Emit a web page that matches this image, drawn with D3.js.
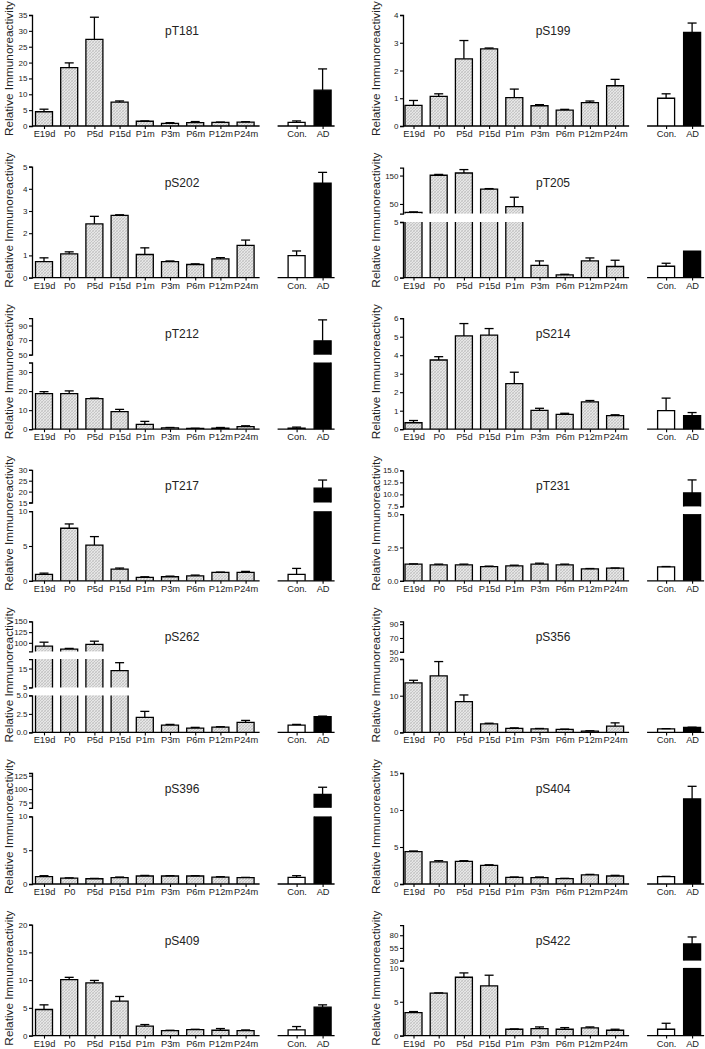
<!DOCTYPE html>
<html lang="en">
<head>
<meta charset="UTF-8">
<title>Tau phosphorylation sites</title>
<script src="https://d3js.org/d3.v7.min.js"></script>
<style>
  body { margin: 0; background: #fff; }
  svg text { font-family: "Liberation Sans", Arial, sans-serif; fill: #222; }
</style>
</head>
<body>
<div id="chart"></div>
<script>
// categories
var ages = ["E19d", "P0", "P5d", "P15d", "P1m", "P3m", "P6m", "P12m", "P24m"];
var groups = ["Con.", "AD"];
var sites = ["pT181", "pS199", "pS202", "pT205", "pT212", "pS214", "pT217",
             "pT231", "pS262", "pS356", "pS396", "pS404", "pS409", "pS422"];

// means (9 ages, then Con., AD) and SEM
var pT181Mean = [4.5, 18.4, 27.3, 7.5, 1.5, 0.8, 1.05, 1.15, 1.25, 1.15, 11.3];
var pT181Sem  = [0.8, 1.5, 7.0, 0.4, 0.1, 0.25, 0.35, 0.1, 0.1, 0.45, 6.7];
var pS199Mean = [0.74, 1.07, 2.42, 2.78, 1.02, 0.73, 0.57, 0.84, 1.45, 1.0, 3.37];
var pS199Sem  = [0.18, 0.09, 0.66, 0.03, 0.31, 0.04, 0.03, 0.06, 0.23, 0.16, 0.34];
var pS202Mean = [0.72, 1.07, 2.42, 2.8, 1.04, 0.72, 0.59, 0.84, 1.45, 0.99, 4.25];
var pS202Sem  = [0.17, 0.09, 0.34, 0.03, 0.3, 0.03, 0.03, 0.06, 0.24, 0.21, 0.49];
var pT205Mean = [20, 151, 159, 102, 40.6, 1.1, 0.24, 1.5, 1.0, 1.02, 2.37];
var pT205Sem  = [2, 3, 12, 2, 33, 0.4, 0.06, 0.27, 0.56, 0.27, 0];
var pT212Mean = [18.7, 18.7, 16.0, 9.2, 2.5, 0.7, 0.4, 0.5, 1.4, 0.5, 69];
var pT212Sem  = [1.0, 1.4, 0.3, 1.2, 1.6, 0.2, 0.1, 0.4, 0.4, 0.6, 28.7];
var pS214Mean = [0.35, 3.74, 5.04, 5.09, 2.46, 1.02, 0.8, 1.48, 0.73, 1.0, 0.73];
var pS214Sem  = [0.12, 0.18, 0.67, 0.35, 0.62, 0.11, 0.06, 0.07, 0.05, 0.68, 0.17];
var pT217Mean = [0.91, 7.55, 5.14, 1.68, 0.48, 0.58, 0.72, 1.2, 1.2, 0.91, 21.6];
var pT217Sem  = [0.19, 0.62, 1.21, 0.15, 0.1, 0.09, 0.1, 0.05, 0.15, 0.87, 3.7];
var pT231Mean = [1.25, 1.2, 1.2, 1.07, 1.12, 1.25, 1.2, 0.9, 0.95, 1.05, 10.3];
var pT231Sem  = [0.02, 0.05, 0.05, 0.03, 0.05, 0.07, 0.05, 0.02, 0.01, 0.02, 2.7];
var pS262Mean = [92.3, 85.4, 96.2, 13.9, 2.03, 0.99, 0.59, 0.72, 1.35, 0.99, 2.12];
var pS262Sem  = [9.2, 1.6, 7.6, 4.2, 0.81, 0.09, 0.09, 0.05, 0.27, 0.09, 0.08];
var pS356Mean = [13.5, 15.4, 8.4, 2.3, 1.07, 0.98, 0.8, 0.36, 1.7, 0.98, 1.33];
var pS356Sem  = [0.7, 3.9, 1.8, 0.2, 0.17, 0.09, 0.1, 0.08, 0.9, 0.05, 0.09];
var pS396Mean = [1.08, 0.88, 0.78, 0.93, 1.18, 1.18, 1.18, 1.03, 0.93, 0.98, 89.8];
var pS396Sem  = [0.15, 0.03, 0.05, 0.1, 0.09, 0.05, 0.05, 0.05, 0.05, 0.25, 13.6];
var pS404Mean = [4.37, 3.0, 3.06, 2.52, 0.9, 0.86, 0.72, 1.22, 1.08, 1.0, 11.5];
var pS404Sem  = [0.09, 0.15, 0.09, 0.08, 0.05, 0.09, 0.05, 0.08, 0.09, 0.04, 1.7];
var pS409Mean = [4.7, 10.1, 9.5, 6.2, 1.69, 0.9, 1.08, 0.96, 0.9, 1.02, 5.12];
var pS409Sem  = [0.84, 0.4, 0.44, 0.85, 0.3, 0.06, 0.06, 0.31, 0.12, 0.61, 0.42];
var pS422Mean = [3.4, 6.26, 8.62, 7.34, 0.94, 1.03, 0.94, 1.13, 0.79, 0.94, 62.9];
var pS422Sem  = [0.15, 0.05, 0.64, 1.58, 0.05, 0.25, 0.24, 0.15, 0.15, 0.88, 13.7];

// y axis pieces: domain and tick labels (broken axes have more than one)
var yAxes = {
  pT181: [{d: [0, 35], t: [0, 5, 10, 15, 20, 25, 30, 35]}],
  pS199: [{d: [0, 4], t: [0, 1, 2, 3, 4]}],
  pS202: [{d: [0, 5], t: [0, 1, 2, 3, 4, 5]}],
  pT205: [{d: [0, 5], t: [0, 5]}, {d: [16, 178], t: [50, 150]}],
  pT212: [{d: [0, 35], t: [0, 10, 20, 30]}, {d: [50, 100], t: [50, 70, 90]}],
  pS214: [{d: [0, 6], t: [0, 1, 2, 3, 4, 5, 6]}],
  pT217: [{d: [0, 10], t: [0, 5, 10]}, {d: [15, 30], t: [15, 20, 25, 30]}],
  pT231: [{d: [0, 5], t: [0, 2.5, 5], f: ".1f"}, {d: [7.5, 15], t: [7.5, 10, 12.5, 15], f: ".1f"}],
  pS262: [{d: [0, 5], t: [0, 2.5, 5], f: ".1f"}, {d: [5, 20], t: [5, 15]}, {d: [80, 150], t: [100, 125, 150]}],
  pS356: [{d: [0, 20], t: [0, 10, 20]}, {d: [50, 94], t: [50, 70, 90]}],
  pS396: [{d: [0, 10], t: [0, 5, 10]}, {d: [65, 130], t: [75, 100, 125]}],
  pS404: [{d: [0, 15], t: [0, 5, 10, 15]}],
  pS409: [{d: [0, 20], t: [0, 5, 10, 15, 20]}],
  pS422: [{d: [0, 10], t: [0, 5, 10]}, {d: [30, 100], t: [30, 55, 80]}]
};

var means = {}, sems = {};
sites.forEach(function(s) { means[s] = window[s + "Mean"]; sems[s] = window[s + "Sem"]; });

// ---- layout ----
var colX = [32, 403];          // y-axis position per column
var firstOff = [12, 10.5];     // first bar centre from axis
var rowY0 = d3.range(7).map(function(r) { return 126 + r * 151.6; });
var step = 25.2, bw = 17, capW = 9;
var titleX = [9, 376];
// pixel extent (above zero) of every axis piece
var segPx = {
  single: [[0, 111]],
  pT205: [[0, 55.6], [64, 110]],
  pT212: [[0, 66.7], [74.5, 111]],
  pT217: [[0, 69.6], [78.3, 111]],
  pT231: [[0, 66.7], [74.4, 110.5]],
  pS262: [[0, 37], [45, 73.3], [81, 111]],
  pS356: [[0, 73.4], [80.6, 111]],
  pS396: [[0, 67.6], [76.2, 111]],
  pS422: [[0, 67.7], [75, 110.5]]
};

var svg = d3.select("#chart").append("svg")
    .attr("width", 705)
    .attr("height", 1049);

// fine cross hatch for the age bars
var pat = svg.append("defs").append("pattern")
    .attr("id", "hatch")
    .attr("patternUnits", "userSpaceOnUse")
    .attr("width", 3).attr("height", 3);
pat.append("rect").attr("width", 3).attr("height", 3).attr("fill", "#e6e6e6");
pat.append("path").attr("d", "M0,3L3,0").attr("stroke", "#b0b0b0").attr("stroke-width", 0.6);
pat.append("path").attr("d", "M0,0L3,3").attr("stroke", "#c2c2c2").attr("stroke-width", 0.5);

sites.forEach(function(site, k) {
  drawPanel(site, k % 2, Math.floor(k / 2));
});

function drawPanel(site, col, row) {
  var ax = colX[col], y0 = rowY0[row];
  var g = svg.append("g");

  var x = d3.scalePoint().domain(ages)
      .range([ax + firstOff[col], ax + firstOff[col] + 8 * step]);
  var xLast = x(ages[8]);
  var x2 = d3.scalePoint().domain(groups).range([xLast + 51, xLast + 77]);

  var px = segPx[site] || segPx.single;
  var segs = yAxes[site].map(function(s, i) {
    return {
      lo: s.d[0], hi: s.d[1], ticks: s.t, fmt: s.f,
      y: d3.scaleLinear().domain(s.d).range([y0 - px[i][0], y0 - px[i][1]])
    };
  });

  var vals = means[site], errs = sems[site];
  var cats = ages.concat(groups);

  cats.forEach(function(c, i) {
    var cx = i < 9 ? x(c) : x2(c);
    var fill = i < 9 ? "url(#hatch)" : (i === 9 ? "#fff" : "#000");
    var v = vals[i];
    var L = cx - bw / 2, R = cx + bw / 2;

    segs.forEach(function(s) {
      if (v <= s.lo) return;
      var yb = s.y(s.lo), yt = s.y(Math.min(v, s.hi));
      var closed = v <= s.hi;
      g.append("rect")
          .attr("x", L).attr("y", yt)
          .attr("width", bw).attr("height", yb - yt)
          .attr("fill", fill);
      g.append("path")
          .attr("d", "M" + L + "," + yb + "V" + yt +
                (closed ? "H" + R : "M" + R + "," + yt) + "V" + yb)
          .attr("fill", "none")
          .attr("stroke", "#000")
          .attr("stroke-width", 1.3);
    });

    // error bar (upper only)
    var top = v + errs[i];
    if (errs[i] > 0) {
      var s = segs.filter(function(s) { return v >= s.lo && v <= s.hi; })[0];
      if (s) {
        var ye = s.y(Math.min(top, s.hi));
        g.append("line")
            .attr("x1", cx).attr("x2", cx)
            .attr("y1", s.y(v)).attr("y2", ye)
            .attr("stroke", "#000").attr("stroke-width", 1.3);
        g.append("line")
            .attr("x1", cx - capW / 2).attr("x2", cx + capW / 2)
            .attr("y1", ye).attr("y2", ye)
            .attr("stroke", "#000").attr("stroke-width", 1.3);
      }
    }
  });

  // y axis pieces
  segs.forEach(function(s) {
    var a = g.append("g")
        .attr("transform", "translate(" + ax + ",0)")
        .call(d3.axisLeft(s.y)
            .tickValues(s.ticks)
            .tickSize(3)
            .tickSizeOuter(3)
            .tickPadding(1.5)
            .tickFormat(s.fmt ? d3.format(s.fmt) : d3.format("d")));
    styleAxis(a, 8);
  });

  // x axes (two pieces)
  var xa = g.append("g")
      .attr("transform", "translate(0," + y0 + ")")
      .call(d3.axisBottom(x).tickSize(3).tickPadding(1.5));
  styleAxis(xa, 9.3);
  xa.select(".domain").remove();
  xa.append("line")
      .attr("x1", ax).attr("x2", xLast + 14)
      .attr("stroke", "#000").attr("stroke-width", 1.3);

  var xb = g.append("g")
      .attr("transform", "translate(0," + y0 + ")")
      .call(d3.axisBottom(x2).tickSize(3).tickPadding(1.5));
  styleAxis(xb, 9.3);
  xb.select(".domain").remove();
  xb.append("line")
      .attr("x1", x2("Con.") - 19).attr("x2", x2("AD") + 12)
      .attr("stroke", "#000").attr("stroke-width", 1.3);

  // panel title
  g.append("text")
      .attr("x", ax + 150).attr("y", y0 - 91)
      .attr("text-anchor", "middle")
      .attr("font-size", 12)
      .text(site);

  // y title
  g.append("text")
      .attr("transform", "translate(" + titleX[col] + "," + (y0 - 57.5) + ") rotate(-90)")
      .attr("text-anchor", "middle")
      .attr("dy", "0.35em")
      .attr("font-size", 11.8)
      .text("Relative Immunoreactivity");
}

function styleAxis(a, fs) {
  a.attr("font-family", null).attr("font-size", fs);
  a.selectAll(".domain").attr("stroke", "#000").attr("stroke-width", 1.3);
  a.selectAll(".tick line").attr("stroke", "#000").attr("stroke-width", 1.1);
  a.selectAll(".tick text").attr("fill", "#222");
}
</script>
</body>
</html>
